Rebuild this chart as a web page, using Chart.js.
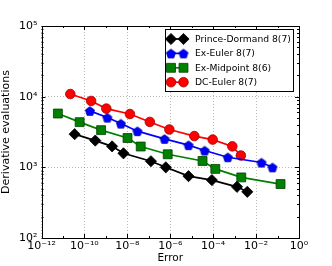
<!DOCTYPE html>
<html>
<head>
<meta charset="utf-8">
<script src="https://cdn.jsdelivr.net/npm/chart.js@4.4.1/dist/chart.umd.min.js"></script>
<style>
  html, body { margin: 0; padding: 0; background: #fff; }
  #wrap { width: 332px; height: 266px; }
</style>
</head>
<body>
<div id="wrap"><canvas id="chart" width="332" height="266"></canvas></div>
<script>

// data (error, derivative evaluations)
const seriesNames = ["Prince-Dormand 8(7)", "Ex-Euler 8(7)", "Ex-Midpoint 8(6)", "DC-Euler 8(7)"];

const pdError = [3.5e-11, 3.2e-10, 1.95e-9, 6.6e-9, 1.26e-7, 6.2e-7, 7.1e-6, 8.7e-5, 1.29e-3, 3.9e-3];
const pdEvals = [2950, 2390, 1980, 1580, 1220, 1000, 750, 660, 530, 450];

const exEulerError = [1.8e-10, 1.17e-9, 5.0e-9, 2.95e-8, 5.4e-7, 7.1e-6, 4.0e-5, 4.8e-4, 1.78e-2, 5.8e-2];
const exEulerEvals = [6300, 5060, 4160, 3250, 2530, 2060, 1730, 1390, 1170, 1000];

const exMidError = [5.8e-12, 6.0e-11, 6.0e-10, 1.02e-8, 4.2e-8, 7.6e-7, 3.2e-5, 1.26e-4, 2.04e-3, 0.138];
const exMidEvals = [5770, 4360, 3360, 2600, 1970, 1530, 1230, 950, 720, 580];

const dcEulerError = [2.2e-11, 2.05e-10, 1.05e-9, 1.32e-8, 1.12e-7, 9.1e-7, 1.32e-5, 9.5e-5, 7.8e-4, 1.95e-3];
const dcEulerEvals = [10900, 8700, 6780, 5680, 4390, 3430, 2770, 2470, 1980, 1470];

const xTickExps = [-12, -10, -8, -6, -4, -2, 0];
const yTickExps = [2, 3, 4, 5];

const FONT = "'DejaVu Sans', sans-serif";

const SUP = {"-": "\u207B", "0": "\u2070", "1": "\u00B9", "2": "\u00B2", "3": "\u00B3",
             "4": "\u2074", "5": "\u2075", "6": "\u2076", "7": "\u2077", "8": "\u2078", "9": "\u2079"};

function powLabel(v){
    const e = Math.round(Math.log10(v));
    return "10" + String(e).split("").map(c => SUP[c]).join("");
}

function pentagon(r, fill, stroke){
    const c = document.createElement("canvas");
    const s = Math.ceil(r * 2 + 2);
    c.width = s; c.height = s;
    const g = c.getContext("2d");
    g.beginPath();
    for(let k = 0; k < 5; k++){
        const a = -Math.PI / 2 + k * 2 * Math.PI / 5;
        const px = s / 2 + r * Math.cos(a), py = s / 2 + 0.6 + r * Math.sin(a);
        if(k === 0) g.moveTo(px, py); else g.lineTo(px, py);
    }
    g.closePath();
    g.fillStyle = fill; g.fill();
    g.lineWidth = 0.8; g.strokeStyle = stroke; g.stroke();
    return c;
}

const pentaBlue = pentagon(4.8, "#0000ff", "#00008a");

const styles = [
    {color: "#000000", edge: "#000000", point: "rectRot", radius: 5.6},
    {color: "#0000ff", edge: "#00008a", point: pentaBlue, radius: 4.8},
    {color: "#008000", edge: "#004000", point: "rect", radius: 6.3},
    {color: "#ff0000", edge: "#a00000", point: "circle", radius: 4.8}
];

const xs = [pdError, exEulerError, exMidError, dcEulerError];
const ys = [pdEvals, exEulerEvals, exMidEvals, dcEulerEvals];

const datasets = seriesNames.map((name, i) => ({
    label: name,
    data: xs[i].map((x, j) => ({x: x, y: ys[i][j]})),
    showLine: true,
    borderColor: styles[i].color,
    backgroundColor: styles[i].color,
    borderWidth: 1.7,
    pointStyle: styles[i].point,
    pointRadius: styles[i].radius,
    pointHoverRadius: styles[i].radius,
    pointBackgroundColor: styles[i].color,
    pointBorderColor: styles[i].edge,
    pointBorderWidth: 0.8,
    tension: 0
}));

// frame, inward ticks and the matplotlib style legend
const framePlugin = {
    id: "frame",
    afterDraw(chart){
        const ctx = chart.ctx;
        const a = chart.chartArea;
        const sx = chart.scales.x, sy = chart.scales.y;
        ctx.save();
        ctx.strokeStyle = "#000";
        ctx.lineWidth = 1;
        ctx.strokeRect(Math.round(a.left) + 0.5, Math.round(a.top) + 0.5,
                       Math.round(a.right) - Math.round(a.left), Math.round(a.bottom) - Math.round(a.top));

        ctx.beginPath();
        for(const e of xTickExps){
            const px = Math.round(sx.getPixelForValue(Math.pow(10, e))) + 0.5;
            ctx.moveTo(px, a.bottom); ctx.lineTo(px, a.bottom - 4);
            ctx.moveTo(px, a.top); ctx.lineTo(px, a.top + 4);
        }
        for(let e = -11; e < 0; e += 2){
            const px = Math.round(sx.getPixelForValue(Math.pow(10, e))) + 0.5;
            ctx.moveTo(px, a.bottom); ctx.lineTo(px, a.bottom - 2);
            ctx.moveTo(px, a.top); ctx.lineTo(px, a.top + 2);
        }
        for(const e of yTickExps){
            const py = Math.round(sy.getPixelForValue(Math.pow(10, e))) + 0.5;
            ctx.moveTo(a.left, py); ctx.lineTo(a.left + 4, py);
            ctx.moveTo(a.right, py); ctx.lineTo(a.right - 4, py);
            if(e === 5) continue;
            for(let m = 2; m < 10; m++){
                const pm = Math.round(sy.getPixelForValue(m * Math.pow(10, e))) + 0.5;
                ctx.moveTo(a.left, pm); ctx.lineTo(a.left + 2, pm);
                ctx.moveTo(a.right, pm); ctx.lineTo(a.right - 2, pm);
            }
        }
        ctx.stroke();

        // legend box
        const bx = 165.5, by = 29.5, bw = 128, bh = 62;
        ctx.fillStyle = "#fff";
        ctx.fillRect(bx, by, bw, bh);
        ctx.strokeRect(bx, by, bw, bh);
        ctx.font = "9.2px " + FONT;
        ctx.textBaseline = "middle";
        chart.data.datasets.forEach((ds, i) => {
            const ry = 39 + i * 14.4;
            const x1 = 171, x2 = 183.5;
            ctx.strokeStyle = ds.borderColor;
            ctx.lineWidth = 1.7;
            ctx.beginPath(); ctx.moveTo(x1, ry); ctx.lineTo(x2, ry); ctx.stroke();
            for(const px of [x1, x2]){
                if(ds.pointStyle instanceof HTMLCanvasElement){
                    ctx.drawImage(ds.pointStyle, px - ds.pointStyle.width / 2, ry - ds.pointStyle.height / 2);
                } else {
                    ctx.fillStyle = ds.pointBackgroundColor;
                    ctx.strokeStyle = ds.pointBorderColor;
                    ctx.lineWidth = ds.pointBorderWidth;
                    Chart.helpers.drawPoint(ctx, {pointStyle: ds.pointStyle, rotation: 0,
                        radius: ds.pointRadius, borderWidth: ds.pointBorderWidth}, px, ry);
                }
            }
            ctx.fillStyle = "#000";
            ctx.fillText(ds.label, 195, ry + 0.5);
        });
        ctx.restore();
    }
};

new Chart(document.getElementById("chart"), {
    type: "scatter",
    data: {datasets},
    plugins: [framePlugin],
    options: {
        responsive: false,
        animation: false,
        events: [],
        layout: {padding: {left: 0, top: 26, right: 33, bottom: 0}},
        plugins: {legend: {display: false}, tooltip: {enabled: false}},
        scales: {
            x: {
                type: "logarithmic",
                min: 1e-12,
                max: 1,
                afterBuildTicks: s => { s.ticks = xTickExps.map(e => ({value: Math.pow(10, e)})); },
                afterFit: s => { s.height = 28; },
                ticks: {
                    autoSkip: false, maxRotation: 0, padding: 2,
                    color: "#000",
                    font: {family: FONT, size: 11},
                    callback: v => powLabel(v)
                },
                grid: {color: "rgba(0,0,0,0.45)", lineWidth: 0.6, drawTicks: false},
                border: {display: false, dash: [1, 2]},
                title: {display: true, text: "Error", color: "#000", font: {family: FONT, size: 10.5}, padding: {top: 0, bottom: 1}}
            },
            y: {
                type: "logarithmic",
                min: 100,
                max: 100000,
                afterBuildTicks: s => { s.ticks = yTickExps.map(e => ({value: Math.pow(10, e)})); },
                afterFit: s => { s.width = 41.5; },
                ticks: {
                    autoSkip: false, padding: 4,
                    color: "#000",
                    font: {family: FONT, size: 11},
                    callback: v => powLabel(v)
                },
                grid: {color: "rgba(0,0,0,0.45)", lineWidth: 0.6, drawTicks: false},
                border: {display: false, dash: [1, 2]},
                title: {display: true, text: "Derivative evaluations", color: "#000", font: {family: FONT, size: 11}, padding: {top: 0, bottom: 0}}
            }
        }
    }
});

</script>
</body>
</html>
